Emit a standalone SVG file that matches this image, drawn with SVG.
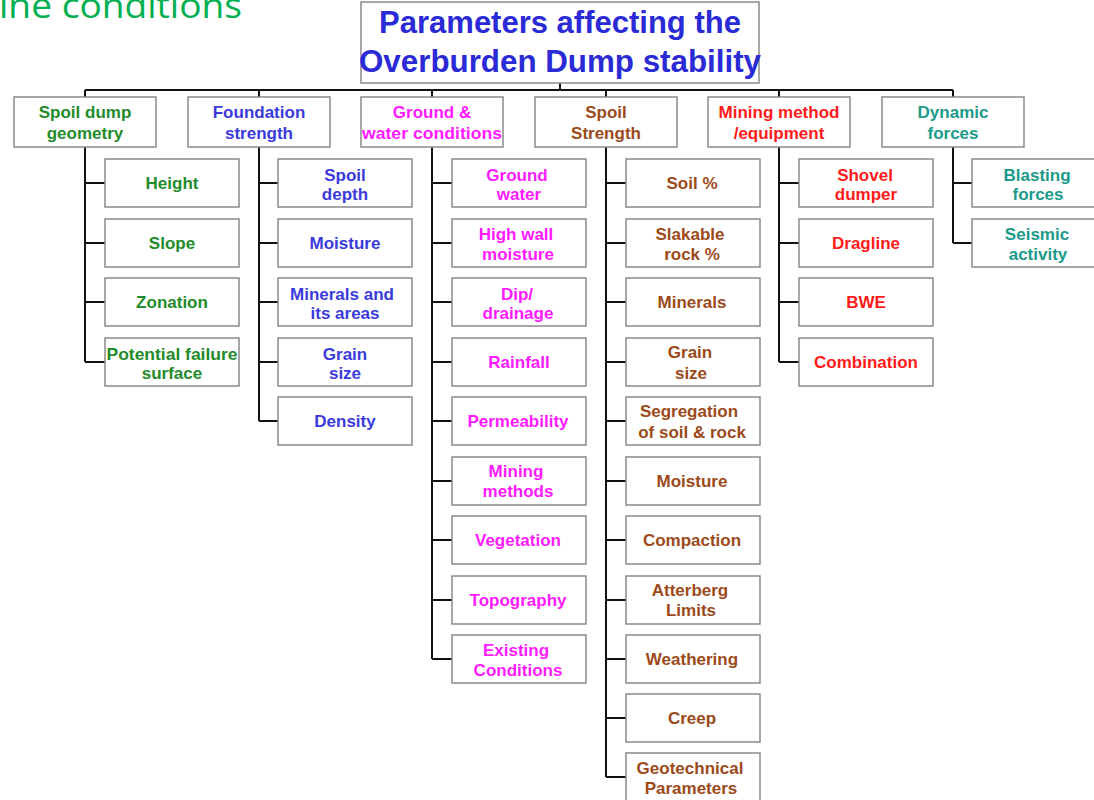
<svg xmlns="http://www.w3.org/2000/svg" width="1094" height="800" viewBox="0 0 1094 800">
<style>
text{font-family:"Liberation Sans",Arial,sans-serif;font-weight:bold;font-size:17px;text-anchor:middle}
.box{fill:#fff;stroke:#8a8a8a;stroke-width:1.5}
.ln{fill:none;stroke:#111;stroke-width:2}
.g{fill:#228b2a}.b{fill:#3a3adc}.m{fill:#ff1aff}.o{fill:#9c4a1a}.r{fill:#ff1a1a}.t{fill:#1a9a8a}
.title{fill:#2a2ad6;font-size:31px}
.top{font-family:"Open Sans","Liberation Sans",sans-serif;font-weight:normal;font-size:35px;fill:#00b050;text-anchor:start}
</style>
<rect width="1094" height="800" fill="#fff"/>
<text class="top" x="-1" y="18" textLength="243" lengthAdjust="spacingAndGlyphs">ine conditions</text>
<g id="connectors">
<path class="ln" d="M560 83V90M85 90H953M85 90V97M259 90V97M432 90V97M606 90V97M779 90V97M953 90V97"/>
<path class="ln" d="M85 147V362M85 183H105M85 243H105M85 302H105M85 362H105"/>
<path class="ln" d="M259 147V421M259 183H278M259 243H278M259 302H278M259 362H278M259 421H278"/>
<path class="ln" d="M432 147V659M432 183H452M432 243H452M432 302H452M432 362H452M432 421H452M432 481H452M432 540H452M432 600H452M432 659H452"/>
<path class="ln" d="M606 147V777M606 183H626M606 243H626M606 302H626M606 362H626M606 421H626M606 481H626M606 540H626M606 600H626M606 659H626M606 718H626M606 777H626"/>
<path class="ln" d="M779 147V362M779 183H799M779 243H799M779 302H799M779 362H799"/>
<path class="ln" d="M953 147V243M953 183H972M953 243H972"/>
</g>
<g id="title"><rect class="box" x="361" y="2" width="398" height="81"/><text class="title" x="560" y="33">Parameters affecting the</text><text class="title" x="560" y="72" textLength="402" lengthAdjust="spacingAndGlyphs">Overburden Dump stability</text></g>
<g id="h1"><rect class="box" x="14" y="97" width="142" height="50"/><text class="g" x="85" y="118">Spoil dump</text><text class="g" x="85" y="139">geometry</text></g>
<g id="h2"><rect class="box" x="188" y="97" width="142" height="50"/><text class="b" x="259" y="118">Foundation</text><text class="b" x="259" y="139">strength</text></g>
<g id="h3"><rect class="box" x="361" y="97" width="142" height="50"/><text class="m" x="432" y="118">Ground &amp;</text><text class="m" x="432" y="139" textLength="140" lengthAdjust="spacingAndGlyphs">water conditions</text></g>
<g id="h4"><rect class="box" x="535" y="97" width="142" height="50"/><text class="o" x="606" y="118">Spoil</text><text class="o" x="606" y="139">Strength</text></g>
<g id="h5"><rect class="box" x="708" y="97" width="142" height="50"/><text class="r" x="779" y="118">Mining method</text><text class="r" x="779" y="139">/equipment</text></g>
<g id="h6"><rect class="box" x="882" y="97" width="142" height="50"/><text class="t" x="953" y="118">Dynamic</text><text class="t" x="953" y="139">forces</text></g>

<g id="c1a"><rect class="box" x="105" y="159" width="134" height="48"/><text class="g" x="172" y="189">Height</text></g>
<g id="c1b"><rect class="box" x="105" y="219" width="134" height="48"/><text class="g" x="172" y="249">Slope</text></g>
<g id="c1c"><rect class="box" x="105" y="278" width="134" height="48"/><text class="g" x="172" y="308">Zonation</text></g>
<g id="c1d"><rect class="box" x="105" y="338" width="134" height="48"/><text class="g" x="172" y="360" textLength="131" lengthAdjust="spacingAndGlyphs">Potential failure</text><text class="g" x="172" y="379">surface</text></g>

<g id="c2a"><rect class="box" x="278" y="159" width="134" height="48"/><text class="b" x="345" y="181">Spoil</text><text class="b" x="345" y="200">depth</text></g>
<g id="c2b"><rect class="box" x="278" y="219" width="134" height="48"/><text class="b" x="345" y="249">Moisture</text></g>
<g id="c2c"><rect class="box" x="278" y="278" width="134" height="48"/><text class="b" x="342" y="300">Minerals and</text><text class="b" x="345" y="319">its areas</text></g>
<g id="c2d"><rect class="box" x="278" y="338" width="134" height="48"/><text class="b" x="345" y="360">Grain</text><text class="b" x="345" y="379">size</text></g>
<g id="c2e"><rect class="box" x="278" y="397" width="134" height="48"/><text class="b" x="345" y="427">Density</text></g>

<g id="c3a"><rect class="box" x="452" y="159" width="134" height="48"/><text class="m" x="517" y="181">Ground</text><text class="m" x="519" y="200">water</text></g>
<g id="c3b"><rect class="box" x="452" y="219" width="134" height="48"/><text class="m" x="516" y="240">High wall</text><text class="m" x="518" y="260">moisture</text></g>
<g id="c3c"><rect class="box" x="452" y="278" width="134" height="48"/><text class="m" x="517" y="300">Dip/</text><text class="m" x="518" y="319">drainage</text></g>
<g id="c3d"><rect class="box" x="452" y="338" width="134" height="48"/><text class="m" x="519" y="368">Rainfall</text></g>
<g id="c3e"><rect class="box" x="452" y="397" width="134" height="48"/><text class="m" x="518" y="427">Permeability</text></g>
<g id="c3f"><rect class="box" x="452" y="457" width="134" height="48"/><text class="m" x="516" y="477">Mining</text><text class="m" x="518" y="497">methods</text></g>
<g id="c3g"><rect class="box" x="452" y="516" width="134" height="48"/><text class="m" x="518" y="546">Vegetation</text></g>
<g id="c3h"><rect class="box" x="452" y="576" width="134" height="48"/><text class="m" x="518" y="606">Topography</text></g>
<g id="c3i"><rect class="box" x="452" y="635" width="134" height="48"/><text class="m" x="516" y="656">Existing</text><text class="m" x="518" y="676">Conditions</text></g>

<g id="c4a"><rect class="box" x="626" y="159" width="134" height="48"/><text class="o" x="692" y="189">Soil %</text></g>
<g id="c4b"><rect class="box" x="626" y="219" width="134" height="48"/><text class="o" x="690" y="240">Slakable</text><text class="o" x="692" y="260">rock %</text></g>
<g id="c4c"><rect class="box" x="626" y="278" width="134" height="48"/><text class="o" x="692" y="308">Minerals</text></g>
<g id="c4d"><rect class="box" x="626" y="338" width="134" height="48"/><text class="o" x="690" y="358">Grain</text><text class="o" x="691" y="379">size</text></g>
<g id="c4e"><rect class="box" x="626" y="397" width="134" height="48"/><text class="o" x="689" y="417">Segregation</text><text class="o" x="692" y="438">of soil &amp; rock</text></g>
<g id="c4f"><rect class="box" x="626" y="457" width="134" height="48"/><text class="o" x="692" y="487">Moisture</text></g>
<g id="c4g"><rect class="box" x="626" y="516" width="134" height="48"/><text class="o" x="692" y="546">Compaction</text></g>
<g id="c4h"><rect class="box" x="626" y="576" width="134" height="48"/><text class="o" x="690" y="596">Atterberg</text><text class="o" x="691" y="616">Limits</text></g>
<g id="c4i"><rect class="box" x="626" y="635" width="134" height="48"/><text class="o" x="692" y="665">Weathering</text></g>
<g id="c4j"><rect class="box" x="626" y="694" width="134" height="48"/><text class="o" x="692" y="724">Creep</text></g>
<g id="c4k"><rect class="box" x="626" y="753" width="134" height="48"/><text class="o" x="690" y="774">Geotechnical</text><text class="o" x="691" y="794">Parameters</text></g>

<g id="c5a"><rect class="box" x="799" y="159" width="134" height="48"/><text class="r" x="865" y="181">Shovel</text><text class="r" x="866" y="200">dumper</text></g>
<g id="c5b"><rect class="box" x="799" y="219" width="134" height="48"/><text class="r" x="866" y="249">Dragline</text></g>
<g id="c5c"><rect class="box" x="799" y="278" width="134" height="48"/><text class="r" x="866" y="308">BWE</text></g>
<g id="c5d"><rect class="box" x="799" y="338" width="134" height="48"/><text class="r" x="866" y="368">Combination</text></g>

<g id="c6a"><rect class="box" x="972" y="159" width="134" height="48"/><text class="t" x="1037" y="181">Blasting</text><text class="t" x="1038" y="200">forces</text></g>
<g id="c6b"><rect class="box" x="972" y="219" width="134" height="48"/><text class="t" x="1037" y="240">Seismic</text><text class="t" x="1038" y="260">activity</text></g>
</svg>
